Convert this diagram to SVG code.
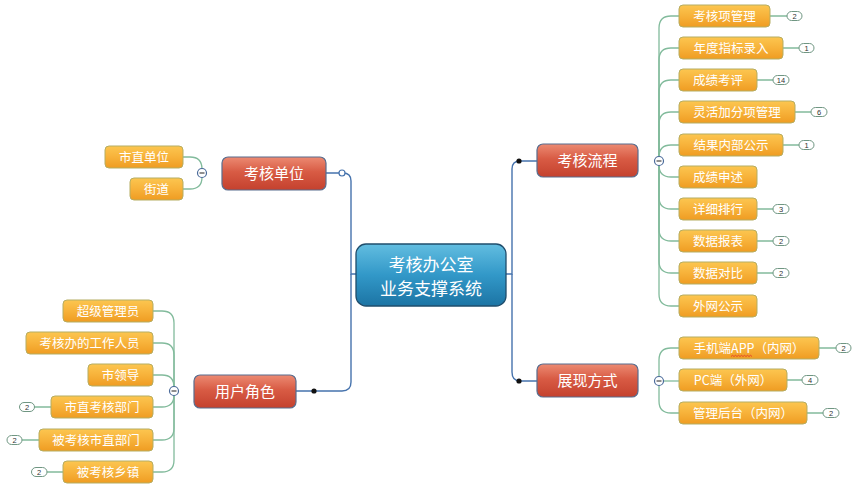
<svg xmlns="http://www.w3.org/2000/svg" width="859" height="492" viewBox="0 0 859 492">
<defs>
<linearGradient id="gOr" x1="0" y1="0" x2="0" y2="1">
<stop offset="0" stop-color="#fcc650"/><stop offset="0.5" stop-color="#f7b23a"/><stop offset="1" stop-color="#ef9c22"/>
</linearGradient>
<linearGradient id="gRed" x1="0" y1="0" x2="0" y2="1">
<stop offset="0" stop-color="#ec8a72"/><stop offset="0.45" stop-color="#d85b44"/><stop offset="1" stop-color="#c4412e"/>
</linearGradient>
<linearGradient id="gBlue" x1="0" y1="0" x2="0" y2="1">
<stop offset="0" stop-color="#62bde0"/><stop offset="0.5" stop-color="#3298c8"/><stop offset="1" stop-color="#1c74a4"/>
</linearGradient>
<style>
text{font-family:"Noto Sans CJK SC","Microsoft YaHei","Liberation Sans",sans-serif;fill:#fff;text-anchor:middle}
.or rect{fill:url(#gOr);stroke:#b5ad62;stroke-width:1}
.or text{font-size:12.5px}
.red rect{fill:url(#gRed);stroke:#596d8e;stroke-width:1.2}
.red text{font-size:15px}
.main{stroke:#4673ad;stroke-width:1.4;fill:none}
.sub{stroke:#82bb9c;stroke-width:1.3;fill:none}
.badge rect{fill:#fff;stroke:#6f9682;stroke-width:1}
.badge text{font-family:"Liberation Sans",sans-serif;font-size:7.5px;fill:#333}
.col circle{fill:#fff;stroke:#4a6a9a;stroke-width:1.2}
.col line{stroke:#333;stroke-width:1.1}
</style>
</defs>
<rect width="859" height="492" fill="#fff"/>

<g id="connectors">
<!-- main blue -->
<path class="main" d="M356,274 H351 V181 Q351,173 343,173 H326"/>
<path class="main" d="M351,274 V382 Q351,391 342,391 H296"/>
<path class="main" d="M506,274 H512 V169 Q512,161 520,161 H537"/>
<path class="main" d="M512,274 V372 Q512,381 520,381 H537"/>
<circle cx="342" cy="173" r="3" fill="#fff" stroke="#4673ad" stroke-width="1.2"/>
<circle cx="314" cy="391" r="2.6" fill="#111"/>
<circle cx="519" cy="161" r="2.6" fill="#111"/>
<circle cx="519" cy="381" r="2.6" fill="#111"/>
<!-- 考核单位 children -->
<path class="sub" d="M202,173 V169 Q202,157 190,157 H183"/>
<path class="sub" d="M202,173 V177 Q202,189 190,189 H183"/>
<!-- 用户角色 children -->
<path class="sub" d="M174,391 V323 Q174,311 162,311 H153"/>
<path class="sub" d="M174,391 V355 Q174,343 162,343 H153"/>
<path class="sub" d="M174,391 V387 Q174,375 162,375 H153"/>
<path class="sub" d="M174,391 V395 Q174,407 162,407 H153"/>
<path class="sub" d="M174,391 V428 Q174,440 162,440 H153"/>
<path class="sub" d="M174,391 V460 Q174,472 162,472 H153"/>
<!-- 考核流程 children -->
<path class="sub" d="M659,161 V28 Q659,16 671,16 H679"/>
<path class="sub" d="M659,161 V60 Q659,48 671,48 H679"/>
<path class="sub" d="M659,161 V92 Q659,80 671,80 H679"/>
<path class="sub" d="M659,161 V124 Q659,112 671,112 H679"/>
<path class="sub" d="M659,161 V157 Q659,145 671,145 H679"/>
<path class="sub" d="M659,161 V165 Q659,177 671,177 H679"/>
<path class="sub" d="M659,161 V197 Q659,209 671,209 H679"/>
<path class="sub" d="M659,161 V229 Q659,241 671,241 H679"/>
<path class="sub" d="M659,161 V261 Q659,273 671,273 H679"/>
<path class="sub" d="M659,161 V294 Q659,306 671,306 H679"/>
<!-- 展现方式 children -->
<path class="sub" d="M659,381 V360 Q659,348 671,348 H679"/>
<path class="sub" d="M659,381 H679"/>
<path class="sub" d="M659,381 V401 Q659,413 671,413 H679"/>
<!-- badge links -->
<path class="sub" d="M34,407 H51 M22,440 H39 M47,472 H63"/>
<path class="sub" d="M770,16 H787 M783,48 H799 M757,80 H773 M795,112 H811 M783,145 H799 M757,209 H773 M757,241 H773 M757,273 H773"/>
<path class="sub" d="M819,348 H836 M787,380 H802 M807,413 H823"/>
</g>

<g id="center">
<rect x="356" y="244" width="150" height="62" rx="10" fill="url(#gBlue)" stroke="#1f4d6c" stroke-width="1.3"/>
<text x="431" y="271" font-size="17">考核办公室</text>
<text x="431" y="295" font-size="17">业务支撑系统</text>
</g>

<g id="n-khdw" class="red"><rect x="222" y="157" width="104" height="33" rx="6"/><text x="274" y="179">考核单位</text></g>
<g id="n-yhjs" class="red"><rect x="194" y="375" width="102" height="33" rx="6"/><text x="245" y="397">用户角色</text></g>
<g id="n-khlc" class="red"><rect x="537" y="144" width="101" height="33" rx="6"/><text x="587.5" y="166">考核流程</text></g>
<g id="n-zxfs" class="red"><rect x="537" y="364" width="101" height="33" rx="6"/><text x="587.5" y="386">展现方式</text></g>

<g class="col">
<circle cx="202" cy="173" r="4.5"/><line x1="199.5" y1="173" x2="204.5" y2="173"/>
<circle cx="174" cy="391" r="4.5"/><line x1="171.5" y1="391" x2="176.5" y2="391"/>
<circle cx="659" cy="161" r="4.5"/><line x1="656.5" y1="161" x2="661.5" y2="161"/>
<circle cx="659" cy="381" r="4.5"/><line x1="656.5" y1="381" x2="661.5" y2="381"/>
</g>

<!-- left children -->
<g id="n-szdw" class="or"><rect x="105" y="146" width="78" height="22" rx="4"/><text x="144" y="161.5">市直单位</text></g>
<g id="n-jd" class="or"><rect x="130" y="178" width="53" height="22" rx="4"/><text x="156.5" y="193.5">街道</text></g>

<g id="n-cjgly" class="or"><rect x="63" y="300" width="90" height="22" rx="4"/><text x="108" y="315.5">超级管理员</text></g>
<g id="n-khbgz" class="or"><rect x="26" y="332" width="127" height="22" rx="4"/><text x="89.5" y="347.5">考核办的工作人员</text></g>
<g id="n-sld" class="or"><rect x="88" y="364" width="65" height="22" rx="4"/><text x="120.5" y="379.5">市领导</text></g>
<g id="n-szkhbm" class="or"><rect x="51" y="396" width="102" height="22" rx="4"/><text x="102" y="411.5">市直考核部门</text></g>
<g id="n-bkhszbm" class="or"><rect x="39" y="429" width="114" height="22" rx="4"/><text x="96" y="444.5">被考核市直部门</text></g>
<g id="n-bkhxz" class="or"><rect x="63" y="461" width="90" height="22" rx="4"/><text x="108" y="476.5">被考核乡镇</text></g>

<!-- right children -->
<g id="n-khxgl" class="or"><rect x="679" y="5" width="91" height="22" rx="4"/><text x="724.5" y="20.5">考核项管理</text></g>
<g id="n-ndzblr" class="or"><rect x="679" y="37" width="104" height="22" rx="4"/><text x="731" y="52.5">年度指标录入</text></g>
<g id="n-cjkp" class="or"><rect x="679" y="69" width="78" height="22" rx="4"/><text x="718" y="84.5">成绩考评</text></g>
<g id="n-lhjf" class="or"><rect x="679" y="101" width="116" height="22" rx="4"/><text x="737" y="116.5">灵活加分项管理</text></g>
<g id="n-jgnb" class="or"><rect x="679" y="134" width="104" height="22" rx="4"/><text x="731" y="149.5">结果内部公示</text></g>
<g id="n-cjss" class="or"><rect x="679" y="166" width="78" height="22" rx="4"/><text x="718" y="181.5">成绩申述</text></g>
<g id="n-xxph" class="or"><rect x="679" y="198" width="78" height="22" rx="4"/><text x="718" y="213.5">详细排行</text></g>
<g id="n-sjbb" class="or"><rect x="679" y="230" width="78" height="22" rx="4"/><text x="718" y="245.5">数据报表</text></g>
<g id="n-sjdb" class="or"><rect x="679" y="262" width="78" height="22" rx="4"/><text x="718" y="277.5">数据对比</text></g>
<g id="n-wwgs" class="or"><rect x="679" y="295" width="78" height="22" rx="4"/><text x="718" y="310.5">外网公示</text></g>

<g id="n-app" class="or"><rect x="679" y="337" width="140" height="22" rx="4"/><text x="749" y="352.5">手机端APP（内网）</text>
<path d="M731,356.5 l1.5,-1.2 l1.5,1.2 l1.5,-1.2 l1.5,1.2 l1.5,-1.2 l1.5,1.2 l1.5,-1.2 l1.5,1.2 l1.5,-1.2 l1.5,1.2 l1.5,-1.2 l1.5,1.2 l1.5,-1.2 l1.5,1.2" fill="none" stroke="#e0302a" stroke-width="0.8"/></g>
<g id="n-pc" class="or"><rect x="679" y="369" width="108" height="22" rx="4"/><text x="733" y="384.5">PC端（外网）</text></g>
<g id="n-glht" class="or"><rect x="679" y="402" width="128" height="22" rx="4"/><text x="743" y="417.5">管理后台（内网）</text></g>

<!-- badges -->
<g id="badges" class="badge">
<rect x="19.5" y="402.5" width="15" height="9" rx="4.5"/><text x="27" y="409.7">2</text>
<rect x="7" y="435.5" width="15" height="9" rx="4.5"/><text x="14.5" y="442.7">2</text>
<rect x="31.5" y="467.5" width="15.5" height="9" rx="4.5"/><text x="39.2" y="474.7">2</text>
<rect x="787" y="11.5" width="15" height="9" rx="4.5"/><text x="794.5" y="18.7">2</text>
<rect x="799" y="43.5" width="15" height="9" rx="4.5"/><text x="806.5" y="50.7">1</text>
<rect x="773" y="75.5" width="16" height="9" rx="4.5"/><text x="781" y="82.7">14</text>
<rect x="811" y="107.5" width="16" height="9" rx="4.5"/><text x="819" y="114.7">6</text>
<rect x="799" y="140.5" width="15" height="9" rx="4.5"/><text x="806.5" y="147.7">1</text>
<rect x="773" y="204.5" width="16" height="9" rx="4.5"/><text x="781" y="211.7">3</text>
<rect x="773" y="236.5" width="16" height="9" rx="4.5"/><text x="781" y="243.7">2</text>
<rect x="773" y="268.5" width="16" height="9" rx="4.5"/><text x="781" y="275.7">2</text>
<rect x="836" y="343.5" width="15" height="9" rx="4.5"/><text x="843.5" y="350.7">2</text>
<rect x="802" y="375.5" width="16" height="9" rx="4.5"/><text x="810" y="382.7">4</text>
<rect x="823" y="408.5" width="16" height="9" rx="4.5"/><text x="831" y="415.7">2</text>
</g>
</svg>
